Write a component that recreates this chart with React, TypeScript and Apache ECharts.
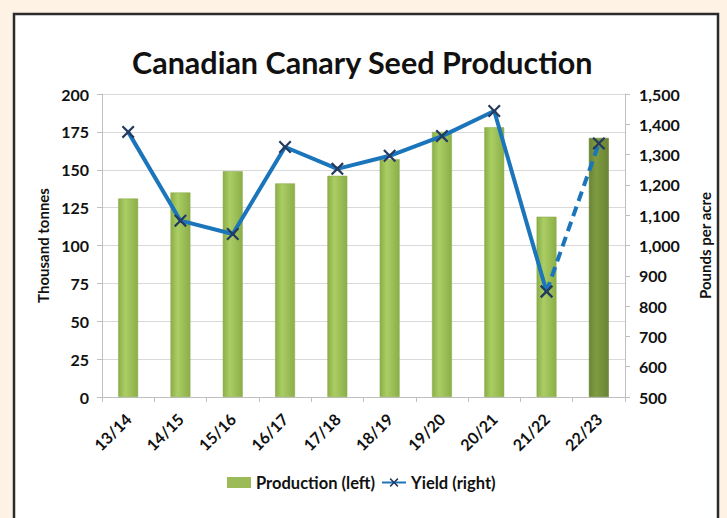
import React, { useEffect, useRef } from "react";
import * as echarts from "echarts";

const categories = ["13/14", "14/15", "15/16", "16/17", "17/18", "18/19", "19/20", "20/21", "21/22", "22/23"];
const production = [131, 135, 149, 141, 146, 157, 175, 178, 119, 171];
const yieldValues = [1375, 1082, 1038, 1325, 1253, 1296, 1361, 1444, 848, 1337];
const leftTicks = { min: 0, max: 200, interval: 25 };
const rightTicks = { min: 500, max: 1500, interval: 100 };
const FONT = "Lato";

const X_SYMBOL = "path://M0,1.2 L1.2,0 L5,3.8 L8.8,0 L10,1.2 L6.2,5 L10,8.8 L8.8,10 L5,6.2 L1.2,10 L0,8.8 L3.8,5 Z";

function barGradient(dark: boolean) {
  return new echarts.graphic.LinearGradient(0, 0, 1, 0, dark
    ? [
        { offset: 0, color: "#6a8434" },
        { offset: 0.35, color: "#7f9c40" },
        { offset: 1, color: "#6a8434" },
      ]
    : [
        { offset: 0, color: "#8cae48" },
        { offset: 0.35, color: "#aacd64" },
        { offset: 1, color: "#8cae48" },
      ]);
}

export default function App() {
  const ref = useRef<HTMLDivElement>(null);
  useEffect(() => {
    document.body.style.margin = "0";
    const chart = echarts.init(ref.current!, null, { renderer: "svg" });
    const lastIdx = categories.length - 1;
    const solid = yieldValues.map((v, i) => (i <= lastIdx - 1 ? v : null));
    const dashed = yieldValues.map((v, i) => (i >= lastIdx - 1 ? v : null));
    chart.setOption({
      animation: false,
      backgroundColor: "#fdf2e3",
      textStyle: { fontFamily: FONT },
      graphic: [
        {
          type: "rect",
          z: -10,
          shape: { x: 14, y: 14, width: 704, height: 520 },
          style: { fill: "#ffffff", stroke: "#2b2b2b", lineWidth: 2.5 },
        },
      ],
      title: {
        text: "Canadian Canary Seed Production",
        left: 127,
        top: 41,
        textStyle: { fontFamily: FONT, fontWeight: "bold", fontSize: 30.5, color: "#111" },
      },
      legend: {
        top: 469,
        left: 222,
        itemGap: 6,
        itemWidth: 24,
        itemHeight: 11,
        textStyle: { fontFamily: FONT, fontWeight: "bold", fontSize: 16.5, color: "#111" },
        data: [
          { name: "Production (left)", icon: "rect", itemStyle: { color: "#9bbb59" } },
          { name: "Yield (right)" },
        ],
      },
      grid: { left: 102, right: 102, top: 94, bottom: 121 },
      xAxis: {
        type: "category",
        data: categories,
        axisLine: { lineStyle: { color: "#bfbfbf", width: 1 } },
        axisTick: { show: true, alignWithLabel: false, length: 5, lineStyle: { color: "#bfbfbf" } },
        axisLabel: {
          rotate: 45,
          margin: 19,
          fontFamily: FONT,
          fontWeight: "bold",
          fontSize: 16,
          color: "#111",
        },
      },
      yAxis: [
        {
          type: "value",
          ...leftTicks,
          name: "Thousand tonnes",
          nameLocation: "middle",
          nameGap: 51,
          nameTextStyle: { fontFamily: FONT, fontWeight: "bold", fontSize: 15, color: "#111" },
          axisLine: { show: true, lineStyle: { color: "#bfbfbf" } },
          axisTick: { show: true, length: 5, lineStyle: { color: "#bfbfbf" } },
          splitLine: { lineStyle: { color: "#d9d9d9" } },
          axisLabel: { margin: 13, fontFamily: FONT, fontWeight: "bold", fontSize: 16, color: "#111" },
        },
        {
          type: "value",
          ...rightTicks,
          name: "Pounds per acre",
          nameLocation: "middle",
          nameGap: 72,
          nameRotate: 90,
          nameTextStyle: { fontFamily: FONT, fontWeight: "bold", fontSize: 15, color: "#111" },
          axisLine: { show: true, lineStyle: { color: "#bfbfbf" } },
          axisTick: { show: true, length: 5, lineStyle: { color: "#bfbfbf" } },
          splitLine: { show: false },
          axisLabel: {
            margin: 14,
            fontFamily: FONT,
            fontWeight: "bold",
            fontSize: 16,
            color: "#111",
            formatter: (v: number) => v.toLocaleString("en-US"),
          },
        },
      ],
      series: [
        {
          name: "Production (left)",
          type: "bar",
          yAxisIndex: 0,
          barWidth: "38%",
          data: production.map((v, i) => ({
            value: v,
            itemStyle: { color: barGradient(i === lastIdx), borderColor: i === lastIdx ? "#5f7a2c" : "#86a845", borderWidth: 0.5 },
          })),
        },
        {
          name: "Yield (right)",
          type: "line",
          yAxisIndex: 1,
          data: solid,
          symbol: X_SYMBOL,
          symbolSize: 13,
          itemStyle: { color: "#243a5e" },
          lineStyle: { color: "#1b75bb", width: 4 },
          z: 5,
        },
        {
          name: "Yield (estimate)",
          type: "line",
          yAxisIndex: 1,
          data: dashed,
          symbol: X_SYMBOL,
          symbolSize: 13,
          itemStyle: { color: "#243a5e" },
          lineStyle: { color: "#1b75bb", width: 4, type: [10, 6] },
          z: 4,
        },
      ],
    });
    return () => chart.dispose();
  }, []);
  return <div ref={ref} style={{ width: 727, height: 518 }} />;
}
